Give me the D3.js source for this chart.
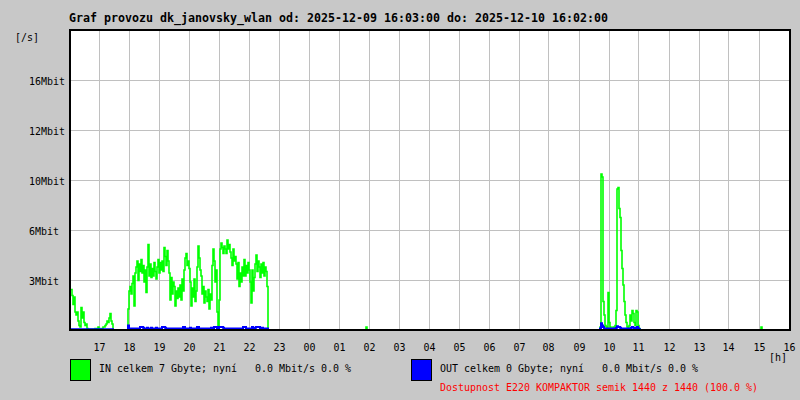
<!DOCTYPE html>
<html><head><meta charset="utf-8">
<script src="https://cdn.jsdelivr.net/npm/d3@7"></script>
<style>
html,body{margin:0;padding:0;background:#c8c8c8;}
svg text{font-family:"DejaVu Sans Mono","Liberation Mono",monospace;white-space:pre;}
</style></head>
<body><svg id="chart" width="800" height="400"></svg>
<script>
// ---- data (Mbit/s, 2-minute samples) ----
const titleText = "Graf provozu dk_janovsky_wlan od: 2025-12-09 16:03:00 do: 2025-12-10 16:02:00";
const yTickValues = [3.333, 6.667, 10, 13.333, 16.667];
const yTickLabels = ["3Mbit", "6Mbit", "10Mbit", "12Mbit", "16Mbit"];
const yMax = 20;
// evening block, samples from 2025-12-09 16:03
const inEvening = [
  2.7,2.7,2.3,1.7,2.2,1.2,1.0,1.2,0.6,0.3,0.2,1.5,0.8,1.2,0.5,0.3,0.4,
  0.1,0.05,0.05,0.05,0.05,0.05,0.05,0.05,0.1,0.05,0.1,0.2,0.1,
  0.05,0.05,0.1,0.2,0.2,0.3,0.4,0.6,0.5,0.8,1.1,0.6,0.4,
  0,0,0,0,0,0,0,0,0,0,0,0,0,0,0,
  1.4,2.6,2.9,2.4,3.1, 3.6,1.6,3.8, 4.2,4.6,3.3,4.4,
  3.9,4.7,3.8,4.3,3.2,4.0, 2.5,4.2,5.7,3.6,
  4.4,3.5,4.1,3.6,4.5,3.9,3.4,4.2, 4.7,3.8,4.5,4.0,4.6,3.9,
  5.5,4.9,4.3,5.3,4.6, 3.8,2.0,3.5,2.4,3.2, 2.9,1.6,2.6,2.1,2.8,
  2.2,3.0,2.0,3.4,2.6, 4.0,4.8,5.1,4.3,4.6,4.1, 3.2,1.6,2.8,2.2,3.4,1.9,2.6,
  4.2,5.6,4.8,4.0,3.6, 2.4,2.9,1.8,2.6,2.2, 1.9,2.7,1.4,2.4,2.0,
  4.3,5.4,4.6,3.2,4.0, 1.2,0.1,2.0, 5.4,5.8,5.5,5.1,5.6,5.4,
  5.1,6.0,5.4,5.7,5.2,4.8, 4.3,5.4,4.6,4.9,4.4, 3.4,4.5,2.9,3.8,3.2,4.2,3.6,
  4.7,3.6,4.3,3.8,4.5,4.0, 3.2,1.8,4.0,2.6,3.5, 4.4,5.0,3.9,4.6,4.2,
  3.5,4.4,3.8,4.5,3.6,4.2,3.9, 2.9, 0];
const outEvening = [
  0.05,0.05,0.05,0.05,0.05,0.05,0.05,0.05,0.05,0.05,0.05,0.05,0.05,0.05,0.05,0.05,0.05,
  0.05,0.05,0.05,0.05,0.05,0.05,0.05,0.05,0.05,0.05,0.05,0.05,0.05,
  0.05,0.05,0.05,0.05,0.05,0.05,0.05,0.05,0.05,0.05,0.05,0.05,0.05,
  0,0,0,0,0,0,0,0,0,0,0,0,0,0,0,
  0.3,
  0.1,0.1,0.1,0.1,0.1,0.1,0.1,0.1,0.1,0.1,
  0.1,0.2,0.2,0.2,0.15,0.1,0.1,0.1,0.15,0.1,
  0.1,0.1,0.15,0.1,0.1,0.1,0.1,0.15,0.1,0.1,
  0.1,0.1,0.1,0.2,0.2,0.2,0.15,0.1,0.1,0.1,
  0.1,0.1,0.1,0.1,0.1,0.1,0.1,0.1,0.1,0.1,
  0.1,0.1,0.1,0.1,0.2,0.2,0.1,0.1,0.1,0.1,
  0.1,0.15,0.1,0.1,0.1,0.1,0.1,0.1,0.2,0.2,
  0.1,0.1,0.1,0.1,0.1,0.1,0.1,0.1,0.1,0.1,
  0.1,0.1,0.15,0.1,0.1,0.2,0.2,0.2,0.1,0.1,
  0.2,0.2,0.2,0.2,0.15,0.1,0.1,0.1,0.1,0.1,
  0.1,0.1,0.1,0.1,0.1,0.1,0.1,0.1,0.1,0.1,
  0.1,0.1,0.1,0.1,0.2,0.2,0.2,0.1,0.1,0.1,
  0.1,0.1,0.1,0.2,0.1,0.1,0.15,0.2,0.2,0.2,
  0.2,0.1,0.1,0.15,0.1,0.1,0.1,0.1,0.1,
  0];
// morning block, samples from 2025-12-10 09:35
const inMorning = [0,0,0,0, 0.2,10.4,10.2,1.9,1.0,0.3, 0.2,0.1, 2.5,0.5,
  0.2,0.1,0.1,0.2,0.1,0.3, 1.3,9.4,9.5,8.1,7.5,5.3,4.1,3.0,1.9,1.0,0.5,
  0.2,0.1,0.3, 1.0,0.6,1.3,1.1,0.5,0.3,1.3,1.2,0.3,0.1,0];
const outMorning = [0,0,0,0, 0.1,0.45,0.3,0.2,0.1,0.1, 0.1,0.1, 0.1,0.1,
  0.1,0.1,0.1,0.1,0.1,0.1, 0.15,0.25,0.2,0.2,0.15,0.1,0.1,0.1,0.1,0.1,0.1,
  0.05,0.05,0.1, 0.1,0.15,0.2,0.15,0.1,0.1,0.15,0.2,0.1,0.05,0];
// isolated small samples
const blipTimes = ["2025-12-10 01:55", "2025-12-10 15:05"];
const blipIn = [0.2, 0.2];
const legendIn = "IN celkem 7 Gbyte; nyní   0.0 Mbit/s 0.0 %";
const legendOut = "OUT celkem 0 Gbyte; nyní   0.0 Mbit/s 0.0 %";
const availText = "Dostupnost E220 KOMPAKTOR semik 1440 z 1440 (100.0 %)";

// ---- build series ----
const parse = d3.timeParse("%Y-%m-%d %H:%M");
const tStart = parse("2025-12-09 16:03");
const tEnd = parse("2025-12-10 16:03");
const eveStart = parse("2025-12-09 16:03");
const mornStart = parse("2025-12-10 09:35");
const step = 2 * 60000;
const nSlots = Math.round((tEnd - tStart) / step);
const slots = d3.range(nSlots).map(i => new Date(+tStart + i * step));
const series = slots.map(t => {
  let vin = 0, vout = 0;
  const ie = Math.round((t - eveStart) / step);
  if (ie >= 0 && ie < inEvening.length) { vin = inEvening[ie]; vout = outEvening[ie]; }
  const im = Math.round((t - mornStart) / step);
  if (im >= 0 && im < inMorning.length) { vin = inMorning[im]; vout = outMorning[im]; }
  blipTimes.forEach((b, k) => { if (+parse(b) === +t) vin = blipIn[k]; });
  return {t, vin, vout};
});

// ---- chart ----
const svg = d3.select("#chart");
const L = 70, R = 790, T = 30, B = 330;
const x = d3.scaleTime().domain([tStart, tEnd]).range([L, R]);
const y = d3.scaleLinear().domain([0, yMax]).range([B, T]);

svg.append("rect").attr("x", L).attr("y", T).attr("width", R - L).attr("height", B - T).attr("fill", "#fff");

const hours = x.ticks(d3.timeHour.every(1));
svg.append("g").selectAll("line").data(hours).join("line")
  .attr("x1", d => Math.round(x(d)) + 0.5).attr("x2", d => Math.round(x(d)) + 0.5)
  .attr("y1", T).attr("y2", B).attr("stroke", "#c0c0c0").attr("stroke-width", 1);
svg.append("g").selectAll("line").data(yTickValues).join("line")
  .attr("x1", L).attr("x2", R)
  .attr("y1", d => Math.round(y(d)) + 0.5).attr("y2", d => Math.round(y(d)) + 0.5)
  .attr("stroke", "#c0c0c0").attr("stroke-width", 1);

svg.append("defs").append("clipPath").attr("id", "clip")
  .append("rect").attr("x", L).attr("y", T).attr("width", R - L).attr("height", B - T);

const lineIn = d3.line().x(d => x(d.t) + 0.5).y(d => y(d.vin)).curve(d3.curveStep);
const lineOut = d3.line().x(d => x(d.t) + 0.5).y(d => y(d.vout)).curve(d3.curveStep);
svg.append("path").datum(series).attr("d", lineIn).attr("fill", "none")
  .attr("stroke", "#00ff00").attr("stroke-width", 1.6).attr("clip-path", "url(#clip)");
svg.append("path").datum(series).attr("d", lineOut).attr("fill", "none")
  .attr("stroke", "#0000ff").attr("stroke-width", 2).attr("clip-path", "url(#clip)");

// frame
svg.append("rect").attr("x", L).attr("y", T).attr("width", R - L).attr("height", B - T)
  .attr("fill", "none").attr("stroke", "#000").attr("stroke-width", 2);

// text
function txt(s, xx, yy, opts) {
  const o = Object.assign({size: 11, fill: "#000", weight: "normal", cw: 6, anchor: "start"}, opts || {});
  const t = svg.append("text").attr("x", xx).attr("y", yy).text(s)
    .attr("font-size", o.size).attr("fill", o.fill).attr("font-weight", o.weight)
    .attr("dominant-baseline", "central").attr("text-anchor", o.anchor)
    .attr("textLength", s.length * o.cw).attr("lengthAdjust", "spacingAndGlyphs");
  return t;
}
txt(titleText, 69, 18, {weight: "bold", cw: 7, size: 11.5});
txt("[/s]", 15, 37);
yTickValues.forEach((v, i) => txt(yTickLabels[i], 29, Math.round(y(v)) + 1.5));
const fmtH = d3.timeFormat("%H");
hours.forEach(h => txt(fmtH(h), Math.round(x(h)) + 0.5, 347.5, {anchor: "middle"}));
txt("[h]", 769, 357.5);

svg.append("rect").attr("x", 70.5).attr("y", 359.5).attr("width", 20).attr("height", 21)
  .attr("fill", "#00ff00").attr("stroke", "#000");
svg.append("rect").attr("x", 411.5).attr("y", 359.5).attr("width", 20).attr("height", 21)
  .attr("fill", "#0000ff").attr("stroke", "#000");
txt(legendIn, 99, 368.5);
txt(legendOut, 440, 368.5);
txt(availText, 440, 387.5, {fill: "#ff0000"});
</script></body></html>
